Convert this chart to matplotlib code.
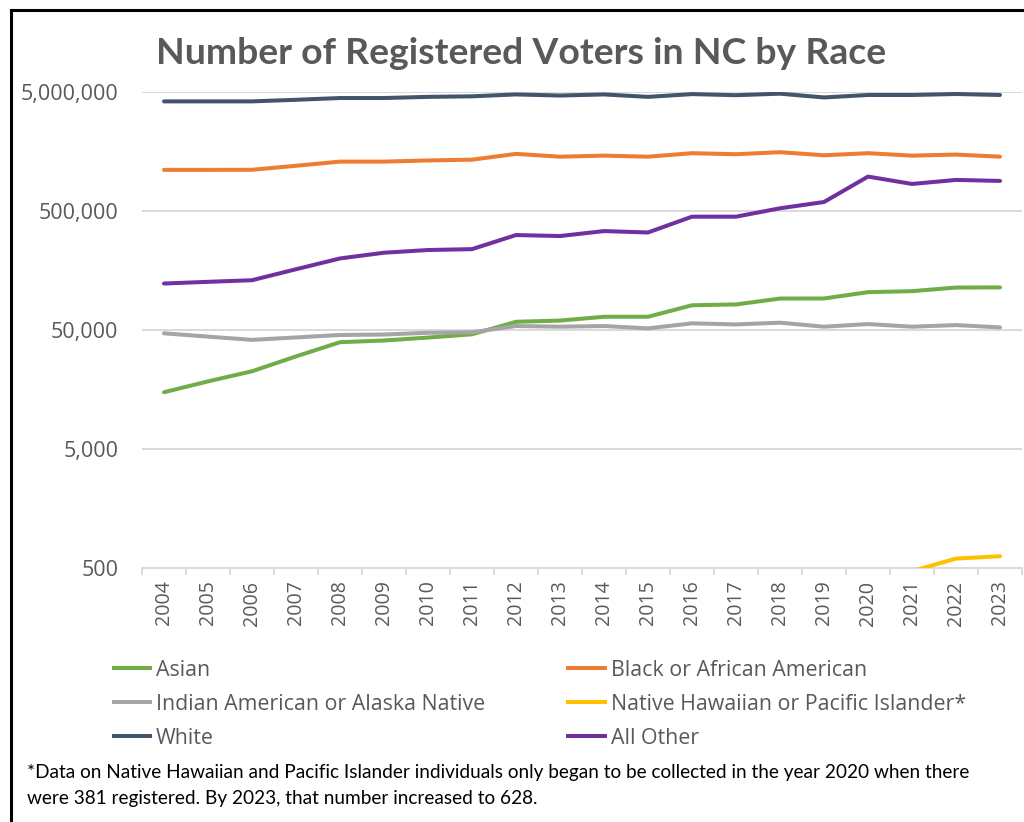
import matplotlib
matplotlib.use("Agg")
import matplotlib.pyplot as plt
from matplotlib.lines import Line2D
from matplotlib.ticker import FixedLocator, FuncFormatter, NullLocator
import numpy as np

# ---------------- data ----------------
years = [str(y) for y in range(2004, 2024)]
asian = [15000, 18500, 22500, 30000, 39500, 40800, 43200, 46000, 58600, 60000,
         64600, 64600, 80700, 82000, 91900, 92000, 104000, 106000, 113700, 114000]
black = [1108000, 1108000, 1110000, 1200000, 1300000, 1300000, 1330000, 1350000, 1510000, 1430000,
         1460000, 1430000, 1530000, 1500000, 1560000, 1470000, 1530000, 1460000, 1490000, 1430000]
indian = [46900, 44000, 41300, 43300, 45400, 45800, 47400, 47800, 54000, 53300,
          54000, 51600, 56900, 55700, 57600, 53300, 56100, 53300, 55000, 52600]
nhpi = [np.nan] * 16 + [381, 470, 600, 628]
white = [4170000, 4170000, 4170000, 4300000, 4450000, 4450000, 4550000, 4600000, 4770000, 4670000,
         4770000, 4550000, 4800000, 4700000, 4840000, 4500000, 4720000, 4720000, 4810000, 4720000]
other = [122900, 127000, 131000, 162000, 199600, 223000, 235000, 239000, 314000, 308000,
         339000, 330000, 448000, 448000, 527000, 595000, 973000, 844000, 912000, 895000]

series_names = ["Asian", "Black or African American", "Indian American or Alaska Native",
                "Native Hawaiian or Pacific Islander*", "White", "All Other"]
series_values = [asian, black, indian, nhpi, white, other]
series_colors = ["#70AD47", "#ED7D31", "#A5A5A5", "#FFC000", "#44546A", "#7030A0"]

y_ticks = [500, 5000, 50000, 500000, 5000000]

title = "Number of Registered Voters in NC by Race"
footnote1 = ("*Data on Native Hawaiian and Pacific Islander individuals only began to be "
             "collected in the year 2020 when there")
footnote2 = "were 381 registered. By 2023, that number increased to 628."

# ---------------- figure ----------------
W, H = 1024, 822
fig = plt.figure(figsize=(W / 100, H / 100), dpi=100)
renderer = fig.canvas.get_renderer()

def fx(px):
    return px / W

def fy(py):
    return 1 - py / H

def fit_size(text, family, weight, target_px, start=12):
    t = fig.text(0, 0, text, fontsize=start, family=family, weight=weight)
    w = t.get_window_extent(renderer).width
    t.remove()
    return start * target_px / w

TXT = "#595959"
GRID = "#D9D9D9"
tick_font = ["Open Sans", "DejaVu Sans"]

ax = fig.add_axes([fx(142), fy(568), fx(1022) - fx(142), fy(92) - fy(568)])
x = np.arange(len(years))
for name, vals, col in zip(series_names, series_values, series_colors):
    ax.plot(x, vals, color=col, lw=2.9, solid_capstyle="round", solid_joinstyle="round",
            label=name, zorder=3)

ax.set_yscale("log")
ax.set_ylim(500, 5000000)
ax.set_xlim(-0.5, len(years) - 0.5)
ax.yaxis.set_major_locator(FixedLocator(y_ticks))
ax.yaxis.set_minor_locator(NullLocator())
ax.yaxis.set_major_formatter(FuncFormatter(lambda v, p: f"{int(round(v)):,}"))
ax.grid(axis="y", color=GRID, lw=1.4, zorder=0)
for s in ["left", "right", "top"]:
    ax.spines[s].set_visible(False)
ax.spines["bottom"].set_color(GRID)
ax.spines["bottom"].set_linewidth(1.4)

ytick_fs = fit_size("5,000,000", tick_font, "normal", 98)
xtick_fs = fit_size("2004", tick_font, "normal", 45)
ax.tick_params(axis="y", length=0, pad=17, labelsize=ytick_fs, labelcolor=TXT)
ax.set_xticks(x)
ax.set_xticklabels(years, rotation=90)
ax.set_xticks(np.arange(-0.5, len(years), 1.0), minor=True)
ax.tick_params(axis="x", which="major", length=0, pad=9, labelsize=xtick_fs, labelcolor=TXT)
ax.tick_params(axis="x", which="minor", length=5, width=1.4, color=GRID)
for lab in ax.get_xticklabels() + ax.get_yticklabels():
    lab.set_family(tick_font)

# ---------------- title ----------------
title_font = ["Lato", "DejaVu Sans"]
tfs = fit_size(title, title_font, "bold", 732, 30)
fig.text(fx(521), fy(64), title, ha="center", va="baseline", fontsize=tfs,
         family=title_font, weight="bold", color=TXT)

# ---------------- legend (manual, two columns) ----------------
leg_fs = fit_size("Indian American or Alaska Native", tick_font, "normal", 331, 14)
rows_y = [668, 702, 736]
cols = [(112, 152, 156), (566, 607, 611)]
for i, (name, col) in enumerate(zip(series_names, series_colors)):
    r, c = divmod(i, 2)
    x0, x1, tx = cols[c]
    yy = rows_y[r]
    fig.add_artist(Line2D([fx(x0), fx(x1)], [fy(yy), fy(yy)], color=col, lw=2.9,
                          solid_capstyle="butt"))
    fig.text(fx(tx), fy(yy + 7.5), name, ha="left", va="baseline", fontsize=leg_fs,
             family=tick_font, color=TXT)

# ---------------- footnote ----------------
foot_font = ["Lato", "DejaVu Sans"]
ffs = fit_size(footnote1, foot_font, "normal", 939, 12)
fig.text(fx(27), fy(778), footnote1, ha="left", va="baseline", fontsize=ffs,
         family=foot_font, color="black")
fig.text(fx(27), fy(804), footnote2, ha="left", va="baseline", fontsize=ffs,
         family=foot_font, color="black")

# ---------------- frame (top and left edges) ----------------
fig.add_artist(Line2D([fx(11), fx(11)], [0, fy(10)], color="black", lw=2.2))
fig.add_artist(Line2D([fx(11), 1], [fy(10), fy(10)], color="black", lw=2.2))

fig.savefig("out.png", dpi=100, facecolor="white")
